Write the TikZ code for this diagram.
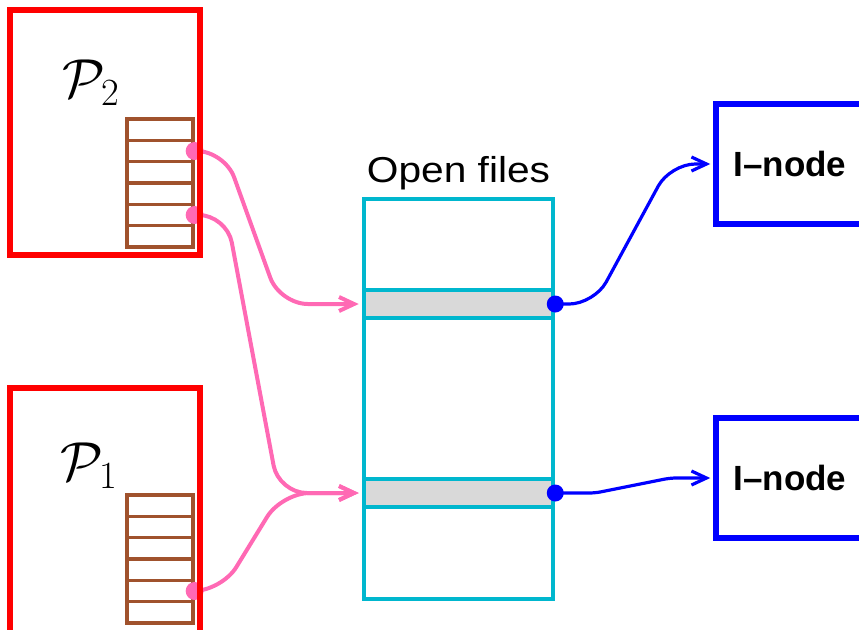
\RequirePackage{fix-cm}
\documentclass[tikz,border=0pt]{standalone}
\usepackage{fontspec}
\usepackage{graphicx}
\newfontfamily\helv{Liberation Sans}
\usetikzlibrary{arrows.meta, positioning}

\definecolor{fdbrown}{RGB}{160,82,45}
\definecolor{filecyan}{RGB}{0,183,206}
\definecolor{ptrpink}{RGB}{255,105,180}
\definecolor{slotgray}{RGB}{217,217,217}
\pgfdeclarelayer{front}
\pgfsetlayers{main,front}

\begin{document}
\begin{tikzpicture}[x=1pt,y=-1pt,>={Straight Barb[length=15pt,width=14pt]},
      proc/.style={draw=red,line width=6pt,minimum width=190pt,minimum height=245pt,inner sep=0pt},
      fd/.style={draw=fdbrown,line width=3.3pt,minimum width=66pt,minimum height=21.33pt,inner sep=0pt},
      ftable/.style={draw=filecyan,line width=4.5pt,minimum width=189pt,minimum height=400pt,inner sep=0pt},
      slot/.style={draw=filecyan,fill=slotgray,line width=4.5pt,minimum width=189pt,minimum height=28pt,inner sep=0pt},
      inode/.style={draw=blue,line width=5.5pt,minimum width=148pt,minimum height=120pt,
        font=\helv\bfseries\fontsize{35}{42}\selectfont},
      ptr/.style={->,ptrpink,line width=4pt,rounded corners=28pt,shorten >=3pt},
      iptr/.style={->,blue,line width=3.2pt,rounded corners=25pt,shorten >=3pt},
      pdot/.style={circle,fill=ptrpink,inner sep=0pt,minimum size=18pt},
      bdot/.style={circle,fill=blue,inner sep=0pt,minimum size=17pt}]

      \useasboundingbox (0,0) rectangle (859,629);
      \clip (0,0) rectangle (859,629);

      % descriptor tables of the two processes
      \foreach \i in {1,...,6} {
          \node[fd] (p2r\i) at (160,{119+21.33*(\i-0.5)}) {};
          \node[fd] (p1r\i) at (160,{495+21.33*(\i-0.5)}) {};}
      \node[anchor=base] (lp2) at (91,97) {\fontsize{55}{66}\selectfont$\mathcal{P}_2$};
      \node[anchor=base] (lp1) at (89,480) {\fontsize{55}{66}\selectfont$\mathcal{P}_1$};

      % open file table
      \node[ftable] (files) at (458.5,399) {};
      \node[slot] (s1) at (458.5,304) {};
      \node[slot] (s2) at (458.5,493) {};
      \node[above=7pt of files,inner sep=0pt] (ftitle)
          {\helv\fontsize{36}{42}\selectfont\scalebox{1.13}[1]{Open files}};

      \node[inode] (i1) at (790,164) {I\textendash node};
      \node[inode] (i2) at (790,478) {I\textendash node};

      \draw[ptr] (p2r2.east) -- ++(30,0) -- ([xshift=-82pt]s1.west) -- (s1.west);
      \draw[ptr] (p2r5.east) -- ++(32,0) -- ([xshift=-83pt]s2.west) -- (s2.west);
      \draw[ptr] (p1r5.east) -- ++(27,0) -- ([xshift=-80pt]s2.west) -- (s2.west);
      \draw[iptr] (s1.east) -- ++(39,0) -- ([xshift=-43pt]i1.west) -- (i1.west);
      \draw[iptr,rounded corners=6pt] (s2.east) -- ++(40,0) -- ([xshift=-43pt]i2.west) -- (i2.west);
      \foreach \n in {p2r2,p2r5,p1r5} {
          \node[pdot] at (\n.east) {};}
      \foreach \n in {s1,s2} {
          \node[bdot] at (\n.east) {};}

      \begin{pgfonlayer}{front}
          \node[proc] (P2) at (105,132.5) {};
          \node[proc] (P1) at (105,510.5) {};
      \end{pgfonlayer}
\end{tikzpicture}
\end{document}
